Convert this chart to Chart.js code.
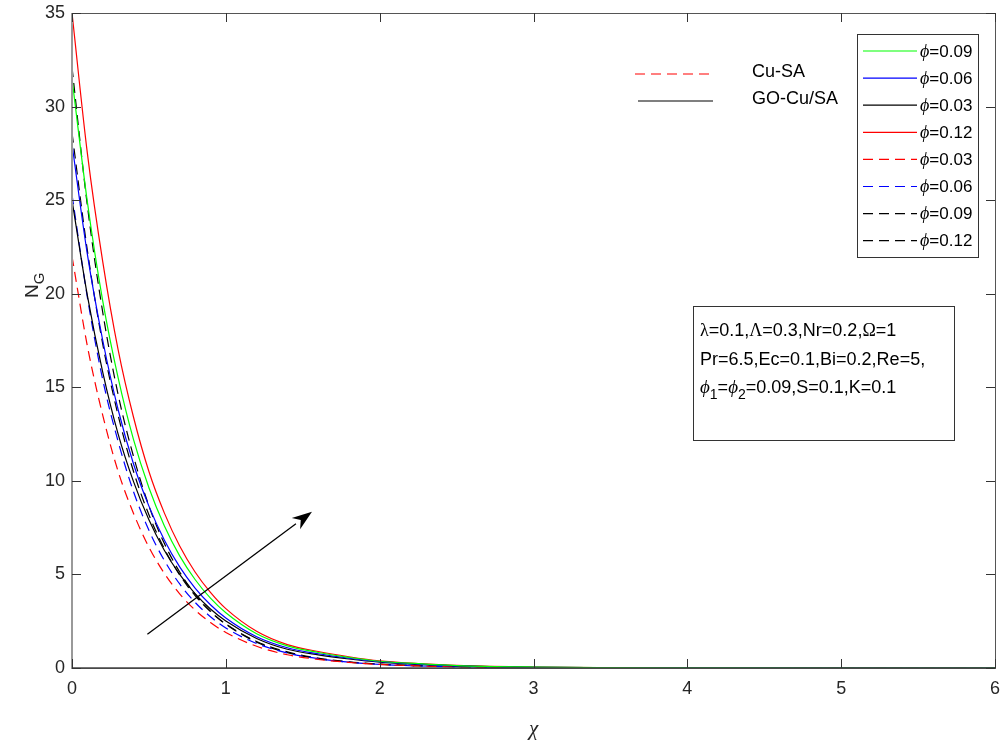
<!DOCTYPE html>
<html>
<head>
<meta charset="utf-8">
<script src="https://cdn.jsdelivr.net/npm/chart.js@4.4.0/dist/chart.umd.min.js"></script>
<style>
  html, body { margin: 0; padding: 0; background: #fff; }
  #wrap { width: 1006px; height: 748px; }
</style>
</head>
<body>
<div id="wrap"><canvas id="ng-chart" width="1006" height="748"></canvas></div>
<script>
// chi values (x axis) shared by every curve
const chi = [0, 0.1, 0.2, 0.3, 0.4, 0.5, 0.6, 0.7, 0.8, 0.9, 1.0, 1.2, 1.4, 1.6, 1.8, 2.0, 2.25, 2.5, 3, 3.5, 4, 5, 6];

// GO-Cu/SA (solid)
const goCu009 = [31.5, 24.9, 19.6, 15.5, 12.2, 9.63, 7.60, 5.99, 4.73, 3.73, 2.95, 1.83, 1.18, 0.83, 0.57, 0.36, 0.23, 0.13, 0.05, 0.02, 0.01, 0, 0];
const goCu006 = [28.0, 22.1, 17.5, 13.8, 10.9, 8.65, 6.84, 5.40, 4.27, 3.38, 2.67, 1.67, 1.08, 0.76, 0.52, 0.34, 0.21, 0.12, 0.04, 0.02, 0.01, 0, 0];
const goCu003 = [25.0, 19.9, 15.8, 12.5, 9.96, 7.92, 6.29, 5.00, 3.97, 3.15, 2.51, 1.58, 1.00, 0.70, 0.48, 0.31, 0.19, 0.11, 0.04, 0.02, 0.01, 0, 0];
const goCu012 = [35.0, 27.5, 21.7, 17.0, 13.4, 10.5, 8.29, 6.52, 5.13, 4.04, 3.17, 1.96, 1.25, 0.88, 0.60, 0.38, 0.24, 0.14, 0.05, 0.02, 0.01, 0, 0];
// Cu-SA (dashed)
const cu003 = [22.0, 17.2, 13.5, 10.5, 8.26, 6.46, 5.06, 3.96, 3.10, 2.43, 1.90, 1.16, 0.71, 0.46, 0.30, 0.19, 0.11, 0.07, 0.02, 0.01, 0, 0, 0];
const cu006 = [25.3, 19.8, 15.4, 12.1, 9.42, 7.36, 5.75, 4.49, 3.51, 2.74, 2.14, 1.31, 0.80, 0.50, 0.31, 0.19, 0.11, 0.07, 0.02, 0.01, 0, 0, 0];
const cu009 = [28.6, 22.3, 17.3, 13.5, 10.5, 8.19, 6.38, 4.97, 3.87, 3.01, 2.35, 1.42, 0.86, 0.53, 0.33, 0.21, 0.12, 0.07, 0.02, 0.01, 0, 0, 0];
const cu012 = [32.1, 24.7, 19.0, 14.6, 11.3, 8.66, 6.66, 5.13, 3.95, 3.04, 2.34, 1.38, 0.82, 0.50, 0.31, 0.20, 0.12, 0.07, 0.02, 0.01, 0, 0, 0];

const phiLabels = ["0.09", "0.06", "0.03", "0.12", "0.03", "0.06", "0.09", "0.12"];
const seriesValues = [goCu009, goCu006, goCu003, goCu012, cu003, cu006, cu009, cu012];
const seriesColors = ["#00ff00", "#0000ff", "#000000", "#ff0000", "#ff0000", "#0000ff", "#000000", "#000000"];
const seriesDashed = [false, false, false, false, true, true, true, true];

const xTicks = [0, 1, 2, 3, 4, 5, 6];
const yTicks = [0, 5, 10, 15, 20, 25, 30, 35];

// arrow in data units (tail -> head)
const arrowFrom = [0.49, 1.8];
const arrowTo = [1.56, 8.35];

const SANS = '"Liberation Sans", Arial, Helvetica, sans-serif';
const SERIF = '"Liberation Serif", "Times New Roman", serif';
const DASH = [10, 6];
const PHI = "\u03d5";

const datasets = seriesValues.map((vals, i) => ({
  label: PHI + "=" + phiLabels[i],
  data: chi.map((x, j) => ({ x: x, y: vals[j] })),
  borderColor: seriesColors[i],
  borderWidth: 1.2,
  borderDash: seriesDashed[i] ? DASH : [],
  pointRadius: 0,
  fill: false,
  cubicInterpolationMode: "monotone"
}));

function drawParts(ctx, parts, x, y) {
  let cx = x;
  parts.forEach(p => {
    ctx.font = p.font;
    ctx.fillText(p.text, cx, y + (p.dy || 0));
    cx += ctx.measureText(p.text).width;
  });
}

function strokeSample(ctx, x1, x2, y, color, dashed) {
  ctx.save();
  ctx.strokeStyle = color;
  ctx.lineWidth = 1.2;
  ctx.setLineDash(dashed ? DASH : []);
  ctx.beginPath();
  ctx.moveTo(x1, y);
  ctx.lineTo(x2, y);
  ctx.stroke();
  ctx.restore();
}

// let the layout padding alone decide where the plot box sits
function noLabelPadding(s) {
  s.paddingTop = 0;
  s.paddingBottom = 0;
  s.paddingLeft = 0;
  s.paddingRight = 0;
}

const decor = {
  id: "decor",
  afterDraw(chart) {
    const ctx = chart.ctx;
    const a = chart.chartArea;
    const xs = chart.scales.x, ys = chart.scales.y;
    ctx.save();

    // axes box
    ctx.strokeStyle = "#555";
    ctx.lineWidth = 1;
    ctx.strokeRect(a.left + 0.5, a.top + 0.5, a.right - a.left, a.bottom - a.top);
    ctx.strokeStyle = "#999";
    ctx.lineWidth = 2;
    ctx.beginPath();
    ctx.moveTo(a.left, a.top);
    ctx.lineTo(a.left, a.bottom + 1);
    ctx.stroke();
    ctx.strokeStyle = "#444";
    ctx.lineWidth = 1.5;
    ctx.beginPath();
    ctx.moveTo(a.left, a.bottom);
    ctx.lineTo(a.right, a.bottom);
    ctx.stroke();

    // inward ticks
    ctx.strokeStyle = "#333";
    ctx.lineWidth = 1;
    ctx.beginPath();
    xTicks.forEach(v => {
      const px = Math.round(xs.getPixelForValue(v)) + 0.5;
      ctx.moveTo(px, a.bottom); ctx.lineTo(px, a.bottom - 9);
      ctx.moveTo(px, a.top); ctx.lineTo(px, a.top + 9);
    });
    yTicks.forEach(v => {
      const py = Math.round(ys.getPixelForValue(v)) + 0.5;
      ctx.moveTo(a.left, py); ctx.lineTo(a.left + 9, py);
      ctx.moveTo(a.right, py); ctx.lineTo(a.right - 9, py);
    });
    ctx.stroke();

    // axis titles
    ctx.fillStyle = "#262626";
    ctx.textBaseline = "middle";
    ctx.textAlign = "center";
    ctx.font = "italic 21px " + SERIF;
    ctx.fillText("\u03c7", (a.left + a.right) / 2, 729);
    ctx.save();
    ctx.translate(33, 285);
    ctx.rotate(-Math.PI / 2);
    ctx.textAlign = "left";
    drawParts(ctx, [
      { text: "N", font: "19px " + SANS },
      { text: "G", font: "15px " + SANS, dy: 7 }
    ], -13, 0);
    ctx.restore();
    ctx.textAlign = "left";

    // phi legend box
    const lx = 857, ly = 34, lw = 121, lh = 223;
    ctx.fillStyle = "#fff";
    ctx.fillRect(lx, ly, lw, lh);
    ctx.strokeStyle = "#333";
    ctx.lineWidth = 1;
    ctx.strokeRect(lx + 0.5, ly + 0.5, lw, lh);
    chart.data.datasets.forEach((ds, i) => {
      const ry = 51 + i * 27.1;
      strokeSample(ctx, 863, 917, ry, seriesColors[i], seriesDashed[i]);
      ctx.fillStyle = "#000";
      drawParts(ctx, [
        { text: PHI, font: "italic 18px " + SERIF },
        { text: "=" + phiLabels[i], font: "17px " + SANS }
      ], 920, ry + 1);
    });

    // fluid legend
    strokeSample(ctx, 635, 713, 74, "#ff0000", true);
    strokeSample(ctx, 638, 713, 101, "#000000", false);
    ctx.fillStyle = "#000";
    ctx.font = "18px " + SANS;
    ctx.fillText("Cu-SA", 752, 72);
    ctx.fillText("GO-Cu/SA", 752, 99);

    // parameter text box
    ctx.strokeStyle = "#333";
    ctx.strokeRect(693.5, 306.5, 261, 134);
    const f = "18px " + SANS, g = "18px " + SERIF, gi = "italic 19px " + SERIF, sub = "14px " + SANS;
    drawParts(ctx, [
      { text: "\u03bb", font: g }, { text: "=0.1,", font: f },
      { text: "\u039b", font: g }, { text: "=0.3,Nr=0.2,", font: f },
      { text: "\u03a9", font: g }, { text: "=1", font: f }
    ], 700, 331);
    drawParts(ctx, [{ text: "Pr=6.5,Ec=0.1,Bi=0.2,Re=5,", font: f }], 700, 360);
    drawParts(ctx, [
      { text: PHI, font: gi }, { text: "1", font: sub, dy: 7 },
      { text: "=", font: f },
      { text: PHI, font: gi }, { text: "2", font: sub, dy: 7 },
      { text: "=0.09,S=0.1,K=0.1", font: f }
    ], 700, 388);

    // arrow
    const x1 = xs.getPixelForValue(arrowFrom[0]), y1 = ys.getPixelForValue(arrowFrom[1]);
    const x2 = xs.getPixelForValue(arrowTo[0]), y2 = ys.getPixelForValue(arrowTo[1]);
    const ang = Math.atan2(y2 - y1, x2 - x1);
    const hl = 20, hw = 7;
    const bx = x2 - hl * Math.cos(ang), by = y2 - hl * Math.sin(ang);
    ctx.strokeStyle = "#000";
    ctx.lineWidth = 1.3;
    ctx.beginPath();
    ctx.moveTo(x1, y1);
    ctx.lineTo(bx, by);
    ctx.stroke();
    ctx.fillStyle = "#000";
    ctx.beginPath();
    ctx.moveTo(x2, y2);
    ctx.lineTo(bx + hw * Math.sin(ang), by - hw * Math.cos(ang));
    ctx.lineTo(x2 - hl * 0.7 * Math.cos(ang), y2 - hl * 0.7 * Math.sin(ang));
    ctx.lineTo(bx - hw * Math.sin(ang), by + hw * Math.cos(ang));
    ctx.closePath();
    ctx.fill();

    ctx.restore();
  }
};

const ctx = document.getElementById("ng-chart").getContext("2d");

const ngChart = new Chart(ctx, {
  type: "line",
  data: { datasets: datasets },
  options: {
    responsive: false,
    animation: false,
    layout: { padding: { top: 13, right: 11, left: 0, bottom: 0 } },
    plugins: {
      legend: { display: false },
      tooltip: { enabled: false }
    },
    scales: {
      x: {
        type: "linear",
        min: 0,
        max: 6,
        grid: { display: false, drawTicks: false },
        border: { display: false },
        afterFit: s => { s.height = 80; noLabelPadding(s); },
        afterBuildTicks: s => { s.ticks = xTicks.map(v => ({ value: v })); },
        ticks: { padding: 10, color: "#262626", font: { family: SANS, size: 18 } }
      },
      y: {
        min: 0,
        max: 35,
        grid: { display: false, drawTicks: false },
        border: { display: false },
        afterFit: s => { s.width = 72; noLabelPadding(s); },
        afterBuildTicks: s => { s.ticks = yTicks.map(v => ({ value: v })); },
        ticks: { padding: 7, color: "#262626", font: { family: SANS, size: 18 } }
      }
    }
  },
  plugins: [decor]
});
</script>
</body>
</html>
